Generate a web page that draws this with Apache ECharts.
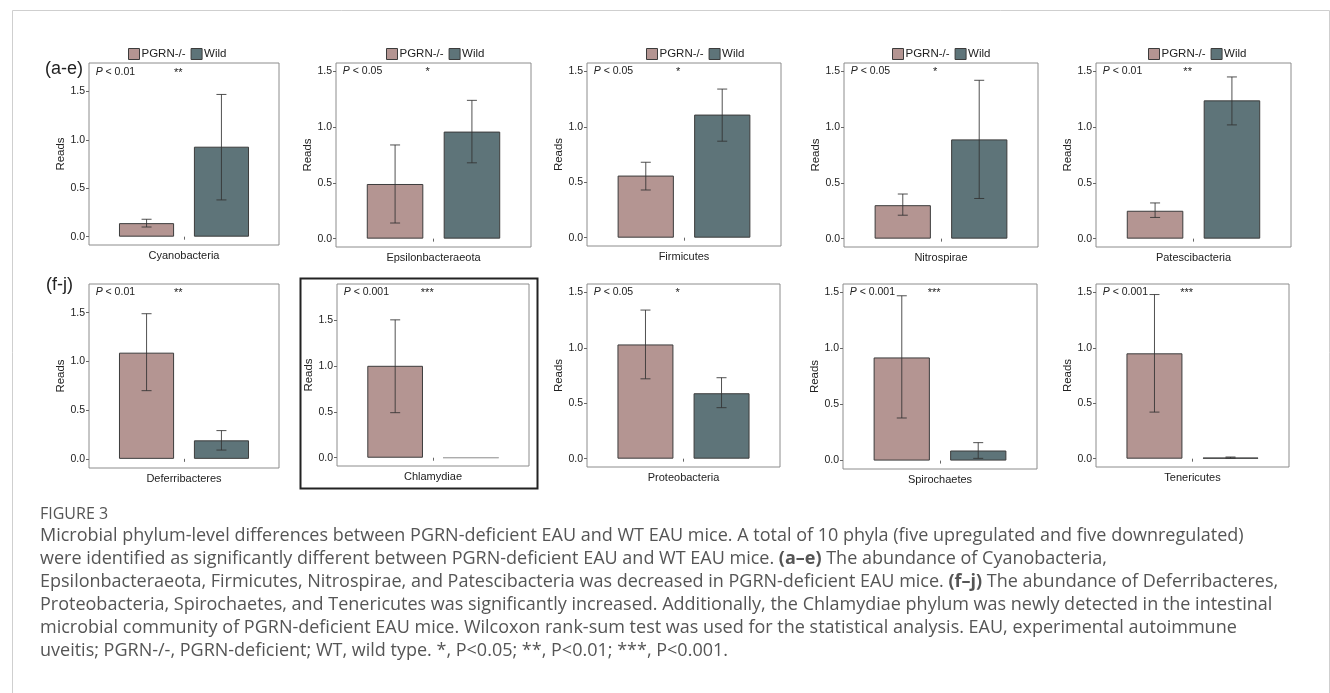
<!DOCTYPE html>
<html>
<head>
<meta charset="utf-8">
<title>Figure 3</title>
<script src="https://cdn.jsdelivr.net/npm/echarts@6/dist/echarts.min.js"></script>
<style>
  html, body { margin: 0; padding: 0; background: #fff; }
  #main { width: 1330px; height: 693px; }
</style>
</head>
<body>
<div id="main"></div>
<script>
// mean reads per phylum, PGRN-/- vs wild type, with error bar ends
var phyla = ['Cyanobacteria', 'Epsilonbacteraeota', 'Firmicutes', 'Nitrospirae', 'Patescibacteria',
             'Deferribacteres', 'Chlamydiae', 'Proteobacteria', 'Spirochaetes', 'Tenericutes'];
var pgrnMean = [0.14, 0.49, 0.56, 0.30, 0.25, 1.09, 1.00, 1.03, 0.92, 0.95];
var pgrnLow  = [0.10, 0.14, 0.43, 0.21, 0.19, 0.70, 0.49, 0.72, 0.38, 0.42];
var pgrnHigh = [0.18, 0.84, 0.68, 0.40, 0.32, 1.49, 1.50, 1.34, 1.47, 1.48];
var wildMean = [0.93, 0.96, 1.11, 0.89, 1.24, 0.19, 0.00, 0.59, 0.09, 0.01];
var wildLow  = [0.38, 0.68, 0.87, 0.36, 1.02, 0.09, 0.00, 0.46, 0.02, 0.005];
var wildHigh = [1.47, 1.24, 1.34, 1.42, 1.45, 0.29, 0.00, 0.73, 0.16, 0.015];
var pValues  = ['0.01', '0.05', '0.05', '0.05', '0.01', '0.01', '0.001', '0.05', '0.001', '0.001'];
var stars    = ['**', '*', '*', '*', '**', '**', '***', '*', '***', '***'];
var annotY   = [1.70, 1.50, 1.50, 1.50, 1.50, 1.71, 1.80, 1.50, 1.50, 1.50];
var yTicks   = [0, 0.5, 1, 1.5];
var groups   = ['PGRN-/-', 'Wild'];

// panel layout: left, top, width, height, yMin, yMax
var panels = [
  [89, 63, 190, 182, -0.086, 1.795],
  [336, 63, 195, 184, -0.075, 1.575],
  [587, 63, 194, 183, -0.075, 1.575],
  [844, 63, 194, 184, -0.075, 1.575],
  [1096, 63, 195, 184, -0.075, 1.575],
  [89, 284, 190, 184, -0.094, 1.795],
  [337, 284, 192, 182, -0.09, 1.89],
  [587, 284, 193, 183, -0.075, 1.575],
  [843, 284, 194, 185, -0.075, 1.575],
  [1096, 284, 193, 183, -0.075, 1.575]
];
var legendLeft = [123, 381, 641, 887, 1143];

var FONT = '"Liberation Sans", Arial, sans-serif';
var colPgrn = '#b49592', colWild = '#5e7479', edge = '#3c3c3c';

var chart = echarts.init(document.getElementById('main'));

function errRender(params, api) {
  var lo = api.value(2), hi = api.value(3);
  if (hi - lo <= 0) return null;
  var band = api.size([1, 0])[0];
  var side = api.value(1) === 0 ? -1 : 1;
  var pLo = api.coord([0, lo]), pHi = api.coord([0, hi]);
  var x = pLo[0] + side * band * 0.197;
  var cap = 5;
  var st = { stroke: '#333', lineWidth: 1, opacity: 0.85 };
  return {
    type: 'group',
    children: [
      { type: 'line', shape: { x1: x, y1: pLo[1], x2: x, y2: pHi[1] }, style: st },
      { type: 'line', shape: { x1: x - cap, y1: pLo[1], x2: x + cap, y2: pLo[1] }, style: st },
      { type: 'line', shape: { x1: x - cap, y1: pHi[1], x2: x + cap, y2: pHi[1] }, style: st }
    ]
  };
}

function annotRender(i) {
  return function (params, api) {
    var c = api.coord([0, api.value(1)]);
    var band = api.size([1, 0])[0];
    return {
      type: 'group',
      children: [
        { type: 'text', x: c[0] - 0.465 * band, y: c[1], style: {
            text: '{i|P} < ' + pValues[i], fill: '#222', fontSize: 10.5, fontFamily: FONT,
            align: 'left', verticalAlign: 'middle',
            rich: { i: { fontStyle: 'italic', fontSize: 10.5, fontFamily: FONT, fill: '#222' } } } },
        { type: 'text', x: c[0] - 0.03 * band, y: c[1] + 1, style: {
            text: stars[i], fill: '#222', fontSize: 11, fontFamily: FONT,
            align: 'center', verticalAlign: 'middle' } }
      ]
    };
  };
}

var grid = [], xAxis = [], yAxis = [], series = [];
phyla.forEach(function (name, i) {
  var p = panels[i];
  grid.push({ left: p[0], top: p[1], width: p[2], height: p[3], show: true,
    borderColor: '#8c8c8c', borderWidth: 1, backgroundColor: 'transparent' });
  xAxis.push({
    type: 'category', gridIndex: i, data: [name],
    axisLine: { show: false },
    axisTick: { show: true, alignWithLabel: true, length: 3, lineStyle: { color: '#666' } },
    axisLabel: { fontSize: 11, color: '#222', fontFamily: FONT, margin: 5 }
  });
  yAxis.push({
    type: 'value', gridIndex: i, min: p[4], max: p[5],
    name: 'Reads', nameLocation: 'middle', nameRotate: 90, nameGap: 22,
    nameTextStyle: { fontSize: 11.5, color: '#222', fontFamily: FONT },
    splitLine: { show: false },
    axisLine: { show: false },
    axisTick: { show: true, length: 3, customValues: yTicks, lineStyle: { color: '#666' } },
    axisLabel: { customValues: yTicks, fontSize: 10.5, color: '#222', fontFamily: FONT, margin: 4,
      formatter: function (v) { return v.toFixed(1); } }
  });
  series.push({
    type: 'bar', name: groups[0], xAxisIndex: i, yAxisIndex: i, data: [pgrnMean[i]],
    barWidth: '29%', barGap: '36%', silent: true,
    itemStyle: { color: colPgrn, borderColor: edge, borderWidth: 1 }
  });
  series.push({
    type: 'bar', name: groups[1], xAxisIndex: i, yAxisIndex: i, data: [wildMean[i]],
    barWidth: '29%', barGap: '36%', silent: true,
    itemStyle: { color: colWild, borderColor: wildMean[i] > 0 ? edge : '#a8a8a8', borderWidth: 1 }
  });
  series.push({
    type: 'custom', name: 'err', xAxisIndex: i, yAxisIndex: i, silent: true, z: 3,
    data: [[0, 0, pgrnLow[i], pgrnHigh[i]], [0, 1, wildLow[i], wildHigh[i]]],
    encode: { x: 0, y: [2, 3] },
    renderItem: errRender
  });
  series.push({
    type: 'custom', name: 'annot', xAxisIndex: i, yAxisIndex: i, silent: true, z: 4,
    data: [[0, annotY[i]]],
    encode: { x: 0, y: 1 },
    renderItem: annotRender(i)
  });
});

var legend = legendLeft.map(function (l) {
  return {
    left: l, top: 43, data: groups, icon: 'rect', itemWidth: 11, itemHeight: 11, itemGap: 5,
    selectedMode: false,
    itemStyle: { borderColor: edge, borderWidth: 1 },
    textStyle: { fontSize: 11.5, color: '#222', fontFamily: FONT, padding: [0, 0, 0, -3] }
  };
});

// caption text of the figure
var capFont = '"Open Sans", Lato, sans-serif';
var capLines = [
  'Microbial phylum-level differences between PGRN-deficient EAU and WT EAU mice. A total of 10 phyla (five upregulated and five downregulated)',
  'were identified as significantly different between PGRN-deficient EAU and WT EAU mice. {b|(a\u2013e)} The abundance of Cyanobacteria,',
  'Epsilonbacteraeota, Firmicutes, Nitrospirae, and Patescibacteria was decreased in PGRN-deficient EAU mice. {b|(f\u2013j)} The abundance of Deferribacteres,',
  'Proteobacteria, Spirochaetes, and Tenericutes was significantly increased. Additionally, the Chlamydiae phylum was newly detected in the intestinal',
  'microbial community of PGRN-deficient EAU mice. Wilcoxon rank-sum test was used for the statistical analysis. EAU, experimental autoimmune',
  'uveitis; PGRN-/-, PGRN-deficient; WT, wild type. *, P<0.05; **, P<0.01; ***, P<0.001.'
];

var graphic = [
  { type: 'rect', left: 10, top: 8, shape: { width: 1317, height: 700 },
    style: { fill: 'none', stroke: '#cfcfcf', lineWidth: 1 }, silent: true },
  { type: 'rect', left: 298, top: 276, shape: { width: 237, height: 210 },
    style: { fill: 'none', stroke: '#222', lineWidth: 2 }, silent: true },
  { type: 'text', left: 45, top: 60, style: { text: '(a-e)', fontSize: 18, fill: '#222', fontFamily: FONT } },
  { type: 'text', left: 46, top: 276, style: { text: '(f-j)', fontSize: 18, fill: '#222', fontFamily: FONT } },
  { type: 'text', left: 40, top: 506, style: { text: 'FIGURE 3', fontSize: 16, fill: '#555', fontFamily: capFont } }
];
capLines.forEach(function (t, k) {
  graphic.push({ type: 'text', left: 40, top: 527 + k * 23, style: {
    text: t, fontSize: 18, fill: '#555', fontFamily: capFont,
    rich: { b: { fontWeight: 'bold', fontSize: 18, fill: '#555', fontFamily: capFont } } } });
});

chart.setOption({
  backgroundColor: '#fff',
  animation: false,
  legend: legend,
  grid: grid,
  xAxis: xAxis,
  yAxis: yAxis,
  series: series,
  graphic: graphic
});
</script>
</body>
</html>
